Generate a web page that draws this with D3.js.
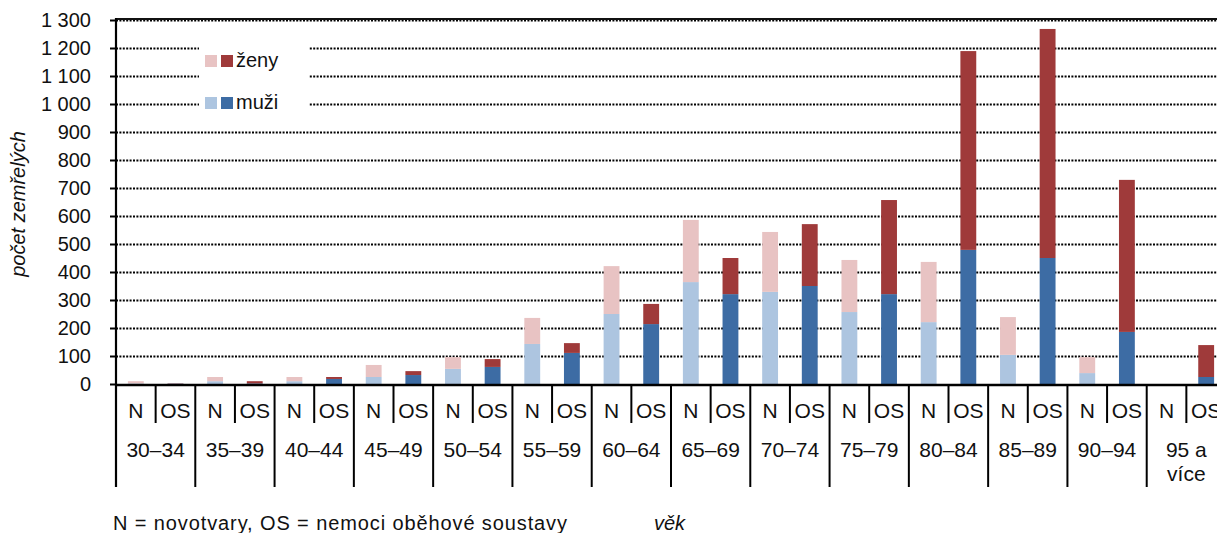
<!DOCTYPE html>
<html>
<head>
<meta charset="utf-8">
<script src="https://cdn.jsdelivr.net/npm/d3@7"></script>
<style>
  html, body { margin: 0; padding: 0; background: #fff; }
  svg { display: block; font-family: "Liberation Sans", Arial, sans-serif; }
</style>
</head>
<body>
<svg id="chart" width="1217" height="533"></svg>
<script>
// ---- data ----
const ageGroups = ["30–34","35–39","40–44","45–49","50–54","55–59","60–64","65–69","70–74","75–79","80–84","85–89","90–94","95 a více"];
const causes = ["N", "OS"];
// N = novotvary
const nMuzi  = [2, 10, 10, 25, 54, 143, 250, 364, 329, 257, 221, 104, 39, 0];
const nZeny  = [8, 15, 15, 43, 42, 93, 171, 222, 214, 186, 215, 135, 57, 0];
// OS = nemoci oběhové soustavy
const osMuzi = [1, 2, 18, 32, 61, 111, 214, 321, 350, 321, 479, 450, 186, 25];
const osZeny = [1, 8, 7, 14, 28, 35, 72, 129, 221, 336, 710, 818, 543, 114];
const yTicks = [0,100,200,300,400,500,600,700,800,900,1000,1100,1200,1300];
const seriesNames = ["ženy", "muži"];
const colors = {
  N:  { muzi: "#adc5e0", zeny: "#e8c3c3" },
  OS: { muzi: "#3d6ca4", zeny: "#9f3a3a" }
};

// ---- layout ----
const svg = d3.select("#chart");
const mLeft = 116, mRight = 1226, mTop = 20, mBottom = 384;

const x0 = d3.scaleBand().domain(ageGroups).range([mLeft, mRight]).padding(0);
const x1 = d3.scaleBand().domain(causes).range([0, x0.bandwidth()]).paddingInner(0.6).paddingOuter(0.3);
const y = d3.scaleLinear().domain([0, 1300]).range([mBottom, mTop]);

const locale = d3.formatLocale({ decimal: ",", thousands: "\u00a0", grouping: [3], currency: ["", " Kč"] });
const fmt = locale.format(",d");

// gridlines
svg.append("g").selectAll("line").data(yTicks.filter(d => d > 0)).join("line")
  .attr("x1", mLeft).attr("x2", 1217)
  .attr("y1", d => y(d) + 0.5).attr("y2", d => y(d) + 0.5)
  .attr("stroke", "#000").attr("stroke-width", 1.8).attr("stroke-dasharray", "2,1.4");

// top border
svg.append("line").attr("x1", mLeft).attr("x2", 1217).attr("y1", mTop - 1).attr("y2", mTop - 1)
  .attr("stroke", "#111").attr("stroke-width", 2);

// rows of data
const rows = [];
ageGroups.forEach((g, i) => {
  rows.push({ g, c: "N", muzi: nMuzi[i], zeny: nZeny[i] });
  rows.push({ g, c: "OS", muzi: osMuzi[i], zeny: osZeny[i] });
});

const bars = svg.append("g");
rows.forEach(r => {
  const bx = x0(r.g) + x1(r.c);
  bars.append("rect").attr("x", bx).attr("width", x1.bandwidth())
    .attr("y", y(r.muzi)).attr("height", y(0) - y(r.muzi)).attr("fill", colors[r.c].muzi);
  bars.append("rect").attr("x", bx).attr("width", x1.bandwidth())
    .attr("y", y(r.muzi + r.zeny)).attr("height", y(r.muzi) - y(r.muzi + r.zeny)).attr("fill", colors[r.c].zeny);
});

// y axis
const yAxis = d3.axisLeft(y).tickValues(yTicks).tickSize(6).tickPadding(19).tickFormat(fmt);
const ya = svg.append("g").attr("transform", `translate(${mLeft},0)`).call(yAxis);
ya.select(".domain").remove();
ya.selectAll(".tick line").attr("stroke", "#000").attr("stroke-width", 2);
ya.selectAll(".tick text").attr("font-size", 20).attr("fill", "#111")
  .attr("font-family", "Liberation Sans, Arial, sans-serif");

// axis lines
svg.append("line").attr("x1", mLeft).attr("x2", mLeft).attr("y1", mTop - 2).attr("y2", 487)
  .attr("stroke", "#000").attr("stroke-width", 2.2);
svg.append("line").attr("x1", mLeft).attr("x2", 1217).attr("y1", mBottom + 1).attr("y2", mBottom + 1)
  .attr("stroke", "#000").attr("stroke-width", 2.5);

// x category separators
const sep = svg.append("g").attr("stroke", "#000").attr("stroke-width", 2);
ageGroups.forEach(g => {
  const gx = x0(g);
  sep.append("line").attr("x1", gx).attr("x2", gx).attr("y1", mBottom).attr("y2", 487);
  const mx = gx + x0.bandwidth() / 2;
  sep.append("line").attr("x1", mx).attr("x2", mx).attr("y1", mBottom).attr("y2", 423);
});

// x labels
const xl = svg.append("g").attr("font-size", 21).attr("fill", "#111").attr("text-anchor", "middle");
ageGroups.forEach(g => {
  causes.forEach(c => {
    xl.append("text").attr("x", x0(g) + x1(c) + x1.bandwidth() / 2).attr("y", 418).text(c);
  });
  const cx = x0(g) + x0.bandwidth() / 2;
  if (g === "95 a více") {
    xl.append("text").attr("x", cx).attr("y", 457).text("95 a");
    xl.append("text").attr("x", cx).attr("y", 481).text("více");
  } else {
    xl.append("text").attr("x", cx).attr("y", 457).text(g);
  }
});

// y axis title
svg.append("text").attr("transform", "translate(25,204) rotate(-90)")
  .attr("text-anchor", "middle").attr("font-size", 20).attr("font-style", "italic").attr("fill", "#111")
  .text("počet zemřelých");

// legend
const lg = svg.append("g");
lg.append("rect").attr("x", 199).attr("y", 38).attr("width", 110).attr("height", 80).attr("fill", "#fff");
const legendKeys = [
  { name: seriesNames[0], light: colors.N.zeny, dark: colors.OS.zeny, y: 55 },
  { name: seriesNames[1], light: colors.N.muzi, dark: colors.OS.muzi, y: 97 }
];
legendKeys.forEach(k => {
  lg.append("rect").attr("x", 205).attr("y", k.y).attr("width", 12).attr("height", 12).attr("fill", k.light);
  lg.append("rect").attr("x", 221).attr("y", k.y).attr("width", 12).attr("height", 12).attr("fill", k.dark);
  lg.append("text").attr("x", 236).attr("y", k.y + 12).attr("font-size", 20).attr("fill", "#111").text(k.name);
});

// notes
svg.append("text").attr("x", 113).attr("y", 530).attr("font-size", 20).attr("fill", "#111")
  .attr("textLength", 454).attr("lengthAdjust", "spacing")
  .text("N = novotvary, OS = nemoci oběhové soustavy");
svg.append("text").attr("x", 654).attr("y", 530).attr("font-size", 20).attr("font-style", "italic").attr("fill", "#111")
  .text("věk");
</script>
</body>
</html>
